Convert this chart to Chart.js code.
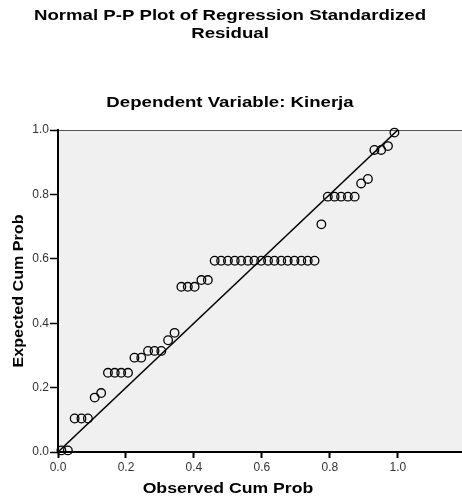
<!DOCTYPE html>
<html>
<head>
<meta charset="utf-8">
<script src="https://cdn.jsdelivr.net/npm/chart.js@4.4.1/dist/chart.umd.min.js"></script>
<style>
  html, body { margin: 0; background: #fff; overflow: hidden; }
  /* plot runs off the right edge like the SPSS export */
  #wrap { width: 468px; height: 502px; }
</style>
</head>
<body>
<div id="wrap"><canvas id="ppPlot"></canvas></div>
<script>
// 51 standardized residuals: observed vs expected cumulative probability
const observedCum = [
  0.010, 0.029, 0.049, 0.069, 0.088, 0.108, 0.127, 0.147, 0.167, 0.186,
  0.206, 0.225, 0.245, 0.265, 0.284, 0.304, 0.324, 0.343, 0.363, 0.382,
  0.402, 0.422, 0.441, 0.461, 0.480, 0.500, 0.520, 0.539, 0.559, 0.578,
  0.598, 0.618, 0.637, 0.657, 0.676, 0.696, 0.716, 0.735, 0.755, 0.775,
  0.794, 0.814, 0.833, 0.853, 0.873, 0.892, 0.912, 0.931, 0.951, 0.971,
  0.990
];
const expectedCum = [
  0.005, 0.005, 0.104, 0.104, 0.104, 0.169, 0.183, 0.246, 0.246, 0.246,
  0.246, 0.293, 0.293, 0.314, 0.314, 0.314, 0.347, 0.370, 0.513, 0.513,
  0.513, 0.534, 0.534, 0.594, 0.594, 0.594, 0.594, 0.594, 0.594, 0.594,
  0.594, 0.594, 0.594, 0.594, 0.594, 0.594, 0.594, 0.594, 0.594, 0.707,
  0.793, 0.793, 0.793, 0.793, 0.793, 0.834, 0.848, 0.938, 0.938, 0.950,
  0.992
];
const refLine = [0, 1];
const xTicks = [0, 0.2, 0.4, 0.6, 0.8, 1.0];

const fontFam = "'Liberation Sans', Arial, sans-serif";
const pageMid = 230;

// SPSS titles come out wide, so draw them stretched sideways
function wideText(ctx, text, x, y, sx, rot) {
  ctx.save();
  ctx.translate(x, y);
  if (rot) ctx.rotate(rot);
  ctx.scale(sx, 1);
  ctx.fillText(text, 0, 0);
  ctx.restore();
}

// grey plot background, thin top border, titles
const plotFrame = {
  id: "plotFrame",
  beforeDraw(chart) {
    const { ctx, chartArea: a } = chart;
    ctx.save();
    ctx.fillStyle = "#f0f0f0";
    ctx.fillRect(a.left, a.top, a.right - a.left, a.bottom - a.top);
    ctx.strokeStyle = "#555";
    ctx.lineWidth = 1;
    ctx.beginPath();
    ctx.moveTo(a.left, a.top + 0.5);
    ctx.lineTo(a.right, a.top + 0.5);
    ctx.stroke();
    ctx.restore();
  },
  afterDraw(chart) {
    const ctx = chart.ctx, xs = chart.scales.x, ys = chart.scales.y;
    ctx.save();
    ctx.font = "bold 14px " + fontFam;
    ctx.fillStyle = "#000";
    ctx.textAlign = "center";
    ctx.textBaseline = "middle";
    wideText(ctx, "Normal P-P Plot of Regression Standardized", pageMid, 16, 1.33);
    wideText(ctx, "Residual", pageMid, 34, 1.33);
    wideText(ctx, "Dependent Variable: Kinerja", pageMid, 103, 1.33);
    wideText(ctx, "Observed Cum Prob", xs.getPixelForValue(0.5), xs.bottom - 13, 1.26);
    wideText(ctx, "Expected Cum Prob", 19, (ys.top + ys.bottom) / 2, 1.15, -Math.PI / 2);
    ctx.restore();
  }
};

const ppData = {
  datasets: [
    {
      type: "scatter",
      data: observedCum.map((x, i) => ({ x: x, y: expectedCum[i] })),
      pointRadius: 4.3,
      pointBorderWidth: 1.3,
      borderColor: "#000",
      backgroundColor: "rgba(0,0,0,0)",
      clip: false,
    },
    {
      type: "line",
      data: refLine.map((v) => ({ x: v, y: v })),
      borderColor: "#000",
      borderWidth: 1.5,
      pointRadius: 0,
    },
  ],
};

const ppConfig = {
  type: "scatter",
  data: ppData,
  options: {
    responsive: true,
    maintainAspectRatio: false,
    animation: false,
    layout: { padding: { top: 130, right: 0, left: 0, bottom: 0 } },
    plugins: {
      legend: false,
      tooltip: { enabled: false },
    },
    scales: {
      x: {
        type: "linear",
        min: 0,
        max: 1.19,
        afterBuildTicks: (s) => { s.ticks = xTicks.map((v) => ({ value: v })); },
        afterFit: (s) => { s.height = 50; },
        border: { color: "#000", width: 2 },
        grid: { drawOnChartArea: false, tickLength: 6, tickColor: "#000", tickWidth: 2 },
        ticks: {
          color: "#333",
          padding: 2,
          font: { family: fontFam, size: 12 },
          callback: (v) => v.toFixed(1),
        },
      },
      y: {
        min: 0,
        max: 1,
        afterFit: (s) => { s.width = 58; },
        border: { color: "#000", width: 2 },
        grid: { drawOnChartArea: false, tickLength: 8, tickColor: "#000", tickWidth: 1.5 },
        ticks: {
          stepSize: 0.2,
          color: "#333",
          padding: 1,
          font: { family: fontFam, size: 12 },
          callback: (v) => v.toFixed(1),
        },
      },
    },
  },
  plugins: [plotFrame],
};

let ppChart;
const cntx = document.getElementById("ppPlot").getContext("2d");
if (ppChart) ppChart.destroy();
ppChart = new Chart(cntx, ppConfig);
</script>
</body>
</html>
